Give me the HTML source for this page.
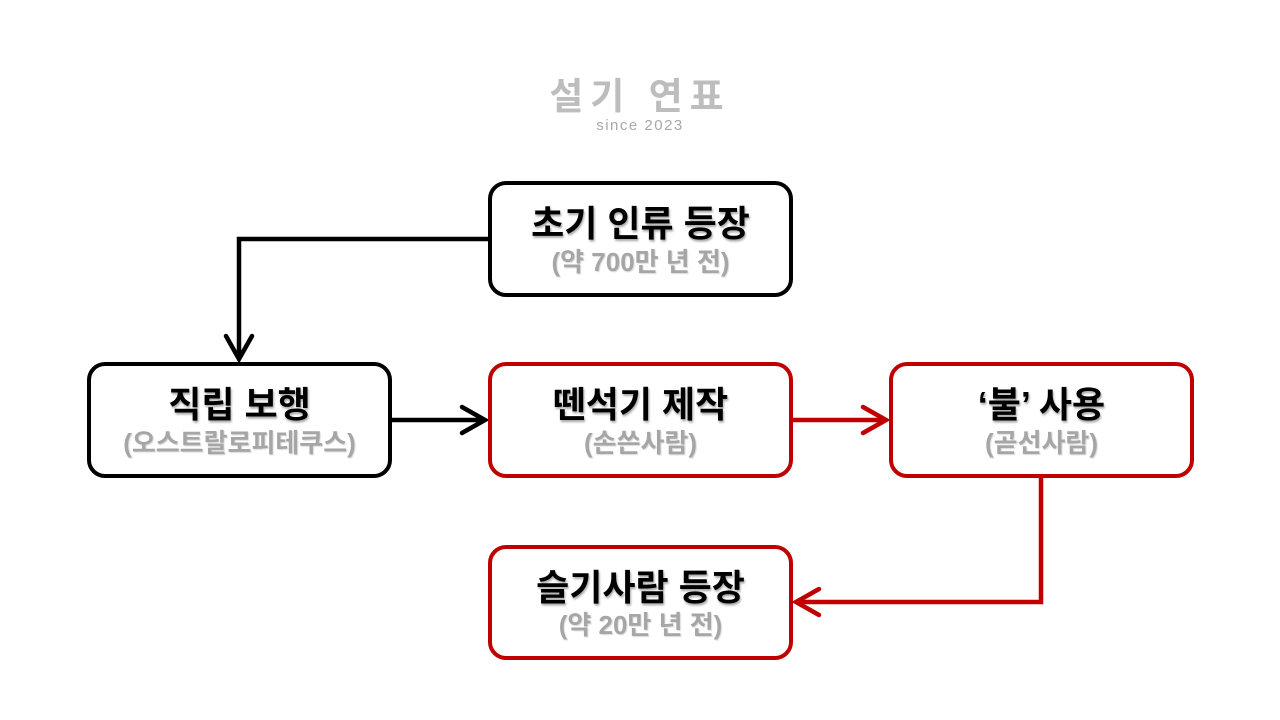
<!DOCTYPE html>
<html>
<head>
<meta charset="utf-8">
<style>
  html,body{margin:0;padding:0;background:#fff;}
  body{width:1280px;height:720px;position:relative;overflow:hidden;
    font-family:"Liberation Sans","Noto Sans CJK KR",sans-serif;}
  .box{position:absolute;box-sizing:border-box;border:4px solid #000;border-radius:18px;background:#fff;}
  .red{border-color:#c00000;}
  .t{position:absolute;left:0;width:100%;text-align:center;white-space:nowrap;font-weight:bold;}
  .title{font-size:36px;color:#000;line-height:42px;text-shadow:1px 2px 2px rgba(0,0,0,0.35);}
  .sub{font-size:26px;color:#a6a6a6;line-height:30px;text-shadow:1px 1px 1px rgba(0,0,0,0.15);}
  .wm{position:absolute;left:0;width:1280px;text-align:center;white-space:nowrap;}
  svg{position:absolute;left:0;top:0;}
</style>
</head>
<body>
<div class="wm" style="top:76px;font-size:37px;line-height:42px;color:#bdbdbd;letter-spacing:7px;font-weight:bold;">설기 연표</div>
<div class="wm" style="top:117px;font-size:15px;line-height:18px;color:#a8a8a8;letter-spacing:1.5px;">since 2023</div>

<svg width="1280" height="720" viewBox="0 0 1280 720">
  <g fill="none" stroke-width="4.5" stroke-linecap="round" stroke-linejoin="miter">
    <polyline points="490,239 239,239 239,358" stroke="#000" stroke-linecap="butt"/>
    <polyline points="226,336 239,359 252,336" stroke="#000"/>
    <line x1="392" y1="420" x2="484" y2="420" stroke="#000" stroke-linecap="butt"/>
    <polyline points="462,407 485,420 462,433" stroke="#000"/>
    <line x1="793" y1="420" x2="885" y2="420" stroke="#c00000" stroke-linecap="butt"/>
    <polyline points="863,407 886,420 863,433" stroke="#c00000"/>
    <polyline points="1041,478 1041,602 797,602" stroke="#c00000" stroke-linecap="butt"/>
    <polyline points="819,589 796,602 819,615" stroke="#c00000"/>
  </g>
</svg>

<div class="box" style="left:488px;top:181px;width:305px;height:116px;">
  <div class="t title" style="top:18px;">초기 인류 등장</div>
  <div class="t sub" style="top:62px;">(약 700만 년 전)</div>
</div>
<div class="box" style="left:87px;top:362px;width:305px;height:116px;">
  <div class="t title" style="top:18px;">직립 보행</div>
  <div class="t sub" style="top:62px;">(오스트랄로피테쿠스)</div>
</div>
<div class="box red" style="left:488px;top:362px;width:305px;height:116px;">
  <div class="t title" style="top:18px;">뗀석기 제작</div>
  <div class="t sub" style="top:62px;">(손쓴사람)</div>
</div>
<div class="box red" style="left:889px;top:362px;width:305px;height:116px;">
  <div class="t title" style="top:18px;">‘불’ 사용</div>
  <div class="t sub" style="top:62px;">(곧선사람)</div>
</div>
<div class="box red" style="left:488px;top:545px;width:305px;height:115px;">
  <div class="t title" style="top:18px;">슬기사람 등장</div>
  <div class="t sub" style="top:61px;">(약 20만 년 전)</div>
</div>
</body>
</html>
